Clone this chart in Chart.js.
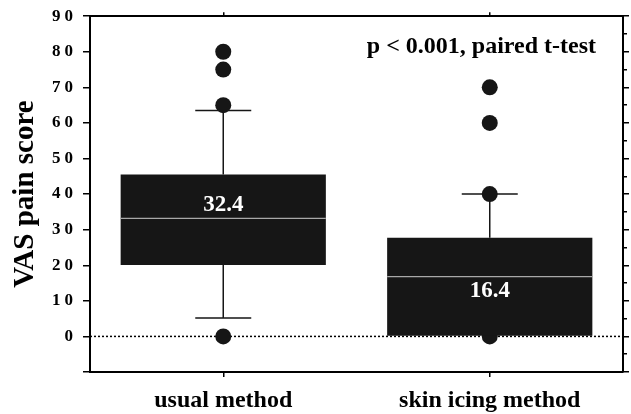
<!DOCTYPE html>
<html>
<head>
<meta charset="utf-8">
<script src="https://cdn.jsdelivr.net/npm/chart.js@4.4.1/dist/chart.umd.min.js"></script>
<style>
  html, body { margin: 0; padding: 0; background: #fff; }
  #wrap { width: 631px; height: 414px; }
</style>
</head>
<body>
<div id="wrap"><canvas id="chart"></canvas></div>
<script>
// data
const categories = ['usual method', 'skin icing method'];
const q1 = [20.1, 0];
const q3 = [45.5, 27.7];
const medians = [33.2, 16.8];
const whiskerLow = [5.2, 0];
const whiskerHigh = [63.5, 40];
const meanLabels = ['32.4', '16.4'];
const outliersUsual = [80, 75, 65, 0];
const outliersIcing = [70, 60, 40, 0];
const yMin = -10;
const yMax = 90;
const yStep = 5;
const annotation = 'p < 0.001, paired t-test';

const serif = 'Liberation Serif';
const ink = '#161616';

const outlierPoints = [];
outliersUsual.forEach(v => outlierPoints.push({ x: categories[0], y: v }));
outliersIcing.forEach(v => outlierPoints.push({ x: categories[1], y: v }));

// whiskers, zero line, medians, labels
const boxExtras = {
    id: 'boxExtras',
    afterLayout(chart) {
        // spaced digits on the left axis like the original
        const s = chart.scales.y;
        if (!s._spaced) {
            const orig = s.drawLabels;
            s.drawLabels = function (area) {
                this.ctx.save();
                this.ctx.letterSpacing = '4px';
                orig.call(this, area);
                this.ctx.restore();
            };
            s._spaced = true;
        }
    },
    beforeDatasetsDraw(chart) {
        const { ctx, chartArea, scales: { x, y } } = chart;
        ctx.save();
        ctx.strokeStyle = '#000';
        ctx.lineWidth = 1.5;
        ctx.setLineDash([2, 2]);
        const y0 = y.getPixelForValue(0);
        ctx.beginPath();
        ctx.moveTo(chartArea.left, y0);
        ctx.lineTo(chartArea.right, y0);
        ctx.stroke();
        ctx.setLineDash([]);

        ctx.strokeStyle = ink;
        categories.forEach((c, i) => {
            const cx = x.getPixelForValue(i);
            [[whiskerHigh[i], q3[i]], [whiskerLow[i], q1[i]]].forEach(([w, q]) => {
                if (w === q) return;
                const wy = y.getPixelForValue(w);
                const qy = y.getPixelForValue(q);
                ctx.beginPath();
                ctx.moveTo(cx, wy);
                ctx.lineTo(cx, qy);
                ctx.moveTo(cx - 28, wy);
                ctx.lineTo(cx + 28, wy);
                ctx.stroke();
            });
        });
        ctx.restore();
    },
    afterDatasetsDraw(chart) {
        const { ctx, chartArea, scales: { y } } = chart;
        const bars = chart.getDatasetMeta(0).data;
        const labelShift = [-13, 14];
        ctx.save();
        bars.forEach((bar, i) => {
            const my = y.getPixelForValue(medians[i]);
            ctx.strokeStyle = '#a8a8a8';
            ctx.lineWidth = 1.3;
            ctx.beginPath();
            ctx.moveTo(bar.x - bar.width / 2, my);
            ctx.lineTo(bar.x + bar.width / 2, my);
            ctx.stroke();

            ctx.fillStyle = '#fff';
            ctx.font = `bold 23px "${serif}"`;
            ctx.textAlign = 'center';
            ctx.textBaseline = 'middle';
            ctx.fillText(meanLabels[i], bar.x, my + labelShift[i]);
        });

        ctx.fillStyle = '#000';
        ctx.font = `bold 24px "${serif}"`;
        ctx.textAlign = 'right';
        ctx.textBaseline = 'middle';
        ctx.fillText(annotation, chartArea.right - 27, chartArea.top + 31);
        ctx.restore();
    }
};

const tickDash = (c) => (c.tick && c.tick.value % 10 !== 0 ? [3, 20] : []);

const ctx = document.getElementById('chart').getContext('2d');
const chart = new Chart(ctx, {
    type: 'bar',
    data: {
        labels: categories,
        datasets: [{
            type: 'bar',
            data: categories.map((c, i) => [q1[i], q3[i]]),
            backgroundColor: ink,
            borderWidth: 0,
            borderSkipped: false,
            barPercentage: 0.77,
            categoryPercentage: 1,
            order: 0
        }, {
            type: 'line',
            data: outlierPoints,
            showLine: false,
            pointRadius: 8,
            pointBackgroundColor: ink,
            pointBorderWidth: 0,
            borderWidth: 0,
            order: 1
        }]
    },
    options: {
        responsive: true,
        maintainAspectRatio: false,
        animation: false,
        layout: { padding: 0 },
        plugins: {
            legend: { display: false },
            tooltip: { enabled: false }
        },
        scales: {
            x: {
                type: 'category',
                position: 'bottom',
                offset: true,
                grid: { offset: false, drawOnChartArea: false, tickLength: 5, color: '#000', lineWidth: 1.5 },
                border: { color: '#000', width: 2 },
                ticks: {
                    color: '#000',
                    padding: 9,
                    font: { family: serif, size: 24, weight: 'bold' }
                },
                afterFit: (s) => { s.height = 42; }
            },
            xTop: {
                type: 'category',
                position: 'top',
                labels: categories,
                offset: true,
                grid: { offset: false, drawOnChartArea: false, tickLength: 4, color: '#000', lineWidth: 1.5 },
                border: { color: '#000', width: 2 },
                ticks: { display: false },
                afterFit: (s) => { s.height = 16; }
            },
            y: {
                position: 'left',
                min: yMin,
                max: yMax,
                grid: {
                    drawOnChartArea: false, tickLength: 7, color: '#000', lineWidth: 1.5,
                    tickBorderDash: tickDash
                },
                border: { color: '#000', width: 2 },
                ticks: {
                    stepSize: yStep,
                    color: '#000',
                    padding: 6,
                    font: { family: serif, size: 17, weight: 'bold' },
                    callback: (v) => (v >= 0 && v % 10 === 0 ? String(v) : '')
                },
                title: {
                    display: true,
                    text: 'VAS pain score',
                    color: '#000',
                    font: { family: serif, size: 29, weight: 'bold' },
                    padding: { top: 8, bottom: 0 }
                },
                afterFit: (s) => { s.width = 90; }
            },
            yRight: {
                position: 'right',
                min: yMin,
                max: yMax,
                grid: {
                    drawOnChartArea: false, tickLength: 6, color: '#000', lineWidth: 1.5,
                    tickBorderDash: tickDash
                },
                border: { color: '#000', width: 2 },
                ticks: { stepSize: yStep, display: false },
                afterFit: (s) => { s.width = 7; }
            }
        }
    },
    plugins: [boxExtras]
});
</script>
</body>
</html>
